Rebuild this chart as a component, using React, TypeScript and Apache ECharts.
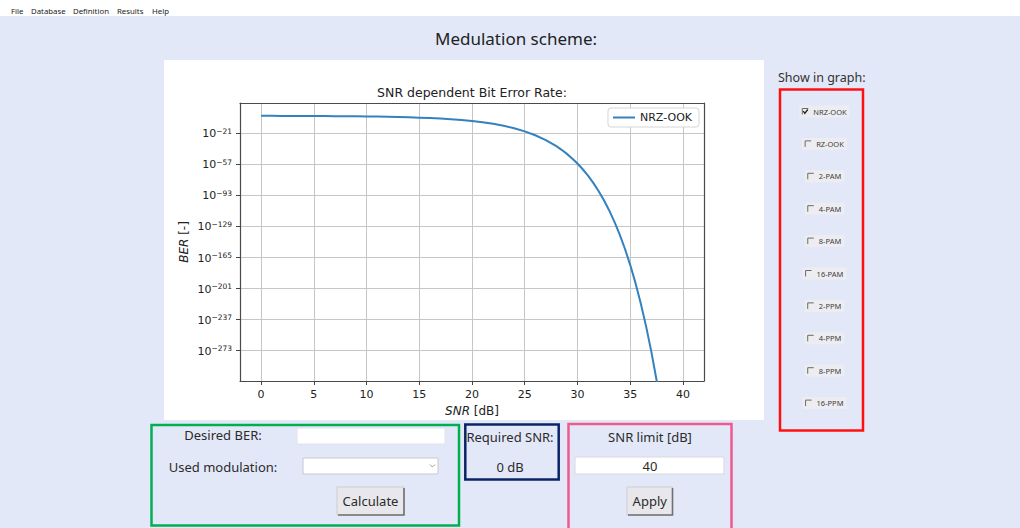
import React, { useEffect, useRef } from 'react';
import * as echarts from 'echarts';

// ---------- data ----------
const menuItems = ['File', 'Database', 'Definition', 'Results', 'Help'];
const pageTitle = 'Medulation scheme:';
const plotTitle = 'SNR dependent Bit Error Rate:';
const seriesName = 'NRZ-OOK';
const xAxisName = '{i|SNR} [dB]';
const yAxisName = '{i|BER} [-]';

// SNR in dB
const snrDb = [
  0, 1, 2, 3, 4, 5, 6, 7, 8, 9, 10, 11, 12, 13, 14, 15, 16, 17, 18, 19, 20,
  21, 22, 23, 24, 25, 26, 27, 28, 28.5, 29, 29.5, 30, 30.5, 31, 31.5, 32,
  32.5, 33, 33.5, 34, 34.5, 35, 35.5, 36, 36.5, 37, 37.5, 37.6, 37.7,
];
// exponent of the bit error rate (BER = 10^exponent)
const berExponent = [
  -0.511, -0.542, -0.577, -0.62, -0.669, -0.728, -0.798, -0.881, -0.98, -1.1,
  -1.245, -1.42, -1.633, -1.894, -2.215, -2.609, -3.091, -3.697, -4.446,
  -5.379, -6.543, -7.997, -9.813, -12.087, -14.942, -18.52, -23.015, -28.66,
  -35.754, -39.96, -44.67, -49.96, -55.885, -62.53, -69.991, -78.355, -87.737,
  -98.26, -110.065, -123.306, -138.161, -154.824, -173.518, -194.49, -218.018,
  -244.414, -274.029, -307.252, -314.3, -321.6,
];

const xTickValues = [0, 5, 10, 15, 20, 25, 30, 35, 40];
const yTickExponents = [-21, -57, -93, -129, -165, -201, -237, -273];

const modulationOptions = [
  'NRZ-OOK', 'RZ-OOK', '2-PAM', '4-PAM', '8-PAM',
  '16-PAM', '2-PPM', '4-PPM', '8-PPM', '16-PPM',
];
const checkedOptions = ['NRZ-OOK'];
const showInGraphLabel = 'Show in graph:';
const desiredBerLabel = 'Desired BER:';
const usedModulationLabel = 'Used modulation:';
const calculateLabel = 'Calculate';
const requiredSnrLabel = 'Required SNR:';
const requiredSnrValue = '0 dB';
const snrLimitLabel = 'SNR limit [dB]';
const snrLimitValue = '40';
const applyLabel = 'Apply';

// ---------- styling ----------
const UI_FONT = "'Noto Sans', 'Open Sans', sans-serif";
const MPL_FONT = "'DejaVu Sans', sans-serif";
const BG = '#e3e8f8';
const TXT = '#2b2b2b';
const SPINE = '#4a4a4a';

function measure(text: string, size: number, family: string) {
  const c = document.createElement('canvas').getContext('2d');
  if (!c) return text.length * size * 0.55;
  c.font = `${size}px ${family}`;
  return c.measureText(text).width;
}

function txt(x: number, y: number, text: string, size: number, align = 'center', fill = TXT, family = UI_FONT) {
  return {
    type: 'text',
    x,
    y,
    silent: true,
    style: {
      text,
      fontSize: size,
      fontFamily: family,
      fill,
      align,
      verticalAlign: 'middle',
      textAlign: align,
      textVerticalAlign: 'middle',
    },
  };
}

function box(x: number, y: number, w: number, h: number, stroke: string, lw: number) {
  return {
    type: 'rect',
    silent: true,
    shape: { x, y, width: w, height: h },
    style: { fill: 'none', stroke, lineWidth: lw },
  };
}

function input(x: number, y: number, w: number, h: number, stroke: string) {
  return {
    type: 'rect',
    silent: true,
    shape: { x, y, width: w, height: h },
    style: { fill: '#ffffff', stroke, lineWidth: 1 },
  };
}

function button(x: number, y: number, w: number, h: number, label: string) {
  return [
    {
      type: 'rect',
      silent: true,
      shape: { x, y, width: w, height: h },
      style: { fill: '#e7e7ec', stroke: '#cdcdd4', lineWidth: 1 },
    },
    {
      type: 'polyline',
      silent: true,
      shape: { points: [[x + w, y + 1], [x + w, y + h], [x + 1, y + h]] },
      style: { fill: 'none', stroke: '#707070', lineWidth: 1.6 },
    },
    txt(x + w / 2, y + h / 2, label, 13),
  ];
}

function checkbox(cy: number, label: string, checked: boolean) {
  const size = 7.5;
  const w = measure(label, size, UI_FONT);
  const total = 3 + 11 + w + 3;
  const bx = 824.5 - total / 2;
  const boxX = bx + 3;
  const els: any[] = [
    {
      type: 'rect',
      silent: true,
      shape: { x: bx, y: cy - 6, width: total, height: 12 },
      style: { fill: '#ededf1' },
    },
    {
      type: 'polyline',
      silent: true,
      shape: { points: [[boxX, cy + 3], [boxX, cy - 3], [boxX + 6, cy - 3]] },
      style: { fill: 'none', stroke: '#6a6a6a', lineWidth: 1 },
    },
    txt(boxX + 11, cy, label, size, 'left', '#404040'),
  ];
  if (checked) {
    els.push({
      type: 'polyline',
      silent: true,
      shape: { points: [[boxX + 1, cy - 0.5], [boxX + 2.5, cy + 1.8], [boxX + 5.5, cy - 2]] },
      style: { fill: 'none', stroke: '#222', lineWidth: 1.3 },
    });
  }
  return els;
}

export default function App() {
  const ref = useRef<HTMLDivElement>(null);

  useEffect(() => {
    if (!ref.current) return;
    const chart = echarts.init(ref.current, null, { renderer: 'svg', width: 1020, height: 528 });

    const elements: any[] = [];
    // menu bar
    elements.push({
      type: 'rect', silent: true, z: -10, shape: { x: 0, y: 0, width: 1020, height: 16 },
      style: { fill: '#ffffff' },
    });
    const menuX = [11, 31, 73, 117, 152];
    menuItems.forEach((m, i) => elements.push(txt(menuX[i], 10.5, m, 7.8, 'left', '#222')));
    // page title
    elements.push(txt(516, 38, pageTitle, 17, 'center', '#222'));
    // figure background
    elements.push({
      type: 'rect', silent: true, z: -10, shape: { x: 164, y: 60, width: 600, height: 360 },
      style: { fill: '#ffffff' },
    });
    // right panel
    elements.push(txt(778, 77, showInGraphLabel, 12.5, 'left', '#333'));
    elements.push(box(780, 89.5, 83, 341, '#ff1010', 2.5));
    modulationOptions.forEach((m, i) => {
      elements.push(...checkbox(111.5 + i * 32.4, m, checkedOptions.includes(m)));
    });
    // bottom-left group
    elements.push(box(151.5, 425, 307.5, 100.5, '#00b050', 2.5));
    elements.push(txt(223, 435, desiredBerLabel, 13));
    elements.push(input(297, 428, 148, 16, '#e2e2ea'));
    elements.push(txt(223, 466.5, usedModulationLabel, 13));
    elements.push(input(303, 458, 135, 16, '#c8c8cf'));
    elements.push({
      type: 'polyline', silent: true,
      shape: { points: [[430, 464.5], [432.5, 467], [435, 464.5]] },
      style: { fill: 'none', stroke: '#9a9a9a', lineWidth: 1 },
    });
    elements.push(...button(337, 487, 67, 28, calculateLabel));
    // required SNR group
    elements.push(box(465.3, 424.5, 93.4, 55, '#0a2466', 2.5));
    elements.push(txt(510, 436.5, requiredSnrLabel, 13));
    elements.push(txt(510, 466.5, requiredSnrValue, 13));
    // SNR limit group
    elements.push(box(568.5, 424, 163, 110, '#ef5a8e', 2.5));
    elements.push(txt(650, 436.5, snrLimitLabel, 13));
    elements.push(input(575, 457, 149, 17, '#d8d8e0'));
    elements.push(txt(650, 466, snrLimitValue, 13));
    elements.push(...button(627, 487, 45.5, 28, applyLabel));

    const titleSize = 12.5;
    const titleW = measure(plotTitle, titleSize, MPL_FONT);

    const nameStyle = {
      fontSize: 12, color: '#222', fontFamily: MPL_FONT,
      rich: { i: { fontStyle: 'italic', fontSize: 12, color: '#222', fontFamily: MPL_FONT } },
    };
    const spineOnly = {
      axisLine: { show: true, onZero: false, lineStyle: { color: SPINE, width: 1.2 } },
      axisTick: { show: false },
      axisLabel: { show: false },
      splitLine: { show: false },
    };

    const option: any = {
      animation: false,
      backgroundColor: BG,
      title: {
        text: plotTitle,
        left: 472 - titleW / 2,
        top: 86,
        padding: 0,
        textStyle: { fontSize: titleSize, fontWeight: 'normal', color: '#222', fontFamily: MPL_FONT },
      },
      graphic: { z: -5, elements },
      legend: {
        data: [seriesName],
        right: 1020 - 699,
        top: 108,
        orient: 'vertical',
        padding: [4, 7, 4, 5],
        backgroundColor: '#ffffff',
        borderColor: '#d6d6d6',
        borderWidth: 1,
        borderRadius: 3,
        icon: 'rect',
        itemWidth: 22,
        itemHeight: 2,
        textStyle: { fontSize: 11, color: '#222', fontFamily: MPL_FONT },
      },
      grid: {
        left: 240,
        top: 103,
        width: 464,
        height: 278,
        show: false,
      },
      xAxis: [
        {
          type: 'value',
          position: 'bottom',
          min: -2,
          max: 42,
          name: xAxisName,
          nameLocation: 'middle',
          nameGap: 22,
          nameTextStyle: nameStyle,
          axisLine: { show: true, onZero: false, lineStyle: { color: SPINE, width: 1.2 } },
          axisTick: { show: true, customValues: xTickValues, length: 4, lineStyle: { color: '#444' } },
          axisLabel: { customValues: xTickValues, margin: 8, fontSize: 11, color: '#222', fontFamily: MPL_FONT },
          splitLine: { show: true, lineStyle: { color: '#c6c6c6', width: 1 } },
        },
        { type: 'value', position: 'top', min: -2, max: 42, ...spineOnly },
      ],
      yAxis: [
        {
          type: 'value',
          position: 'left',
          min: -308.4,
          max: 14.4,
          name: yAxisName,
          nameLocation: 'middle',
          nameGap: 50,
          nameTextStyle: nameStyle,
          axisLine: { show: true, onZero: false, lineStyle: { color: SPINE, width: 1.2 } },
          axisTick: { show: true, customValues: yTickExponents, length: 4, lineStyle: { color: '#444' } },
          axisLabel: {
            customValues: yTickExponents,
            margin: 8,
            formatter: (v: number) => `{b|10}{s|\u2212${Math.abs(v)}}`,
            rich: {
              b: { fontSize: 11, lineHeight: 12, padding: [3, 0, 0, 0], verticalAlign: 'bottom', color: '#222', fontFamily: MPL_FONT },
              s: { fontSize: 7.5, lineHeight: 8, verticalAlign: 'top', color: '#222', fontFamily: MPL_FONT },
            },
          },
          splitLine: { show: true, lineStyle: { color: '#c6c6c6', width: 1 } },
        },
        { type: 'value', position: 'right', min: -308.4, max: 14.4, ...spineOnly },
      ],
      series: [
        {
          name: seriesName,
          type: 'line',
          xAxisIndex: 0,
          yAxisIndex: 0,
          data: snrDb.map((s, i) => [s, berExponent[i]]),
          showSymbol: false,
          symbol: 'none',
          clip: true,
          lineStyle: { color: '#3382bf', width: 2 },
          itemStyle: { color: '#3382bf' },
        },
      ],
    };

    chart.setOption(option);
    return () => chart.dispose();
  }, []);

  return (
    <div
      ref={ref}
      style={{ position: 'fixed', left: 0, top: 0, width: 1020, height: 528 }}
    />
  );
}
